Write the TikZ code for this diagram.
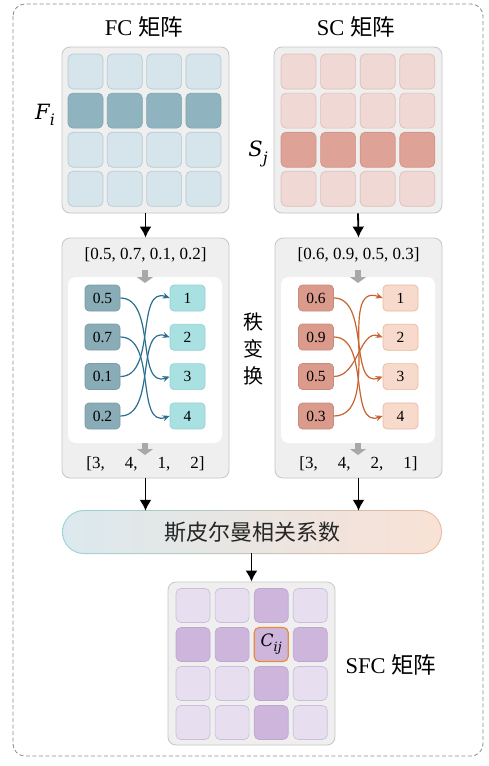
\documentclass[tikz,border=0pt]{standalone}
\usepackage{fontspec}
\setmainfont{Liberation Serif}
\newfontfamily\cjk{Noto Sans CJK SC}
\newfontfamily\mvar{DejaVu Serif}
\usetikzlibrary{arrows.meta,calc}
\definecolor{fclF}{HTML}{D5E5EB}\definecolor{fclD}{HTML}{B5CBD3}
\definecolor{fcdF}{HTML}{8FB4BF}\definecolor{fcdD}{HTML}{7FA6B2}
\definecolor{sclF}{HTML}{F0D9D5}\definecolor{sclD}{HTML}{E0BDB6}
\definecolor{scdF}{HTML}{DEA296}\definecolor{scdD}{HTML}{D09386}
\definecolor{panF}{HTML}{EFEFEF}\definecolor{panD}{HTML}{C6C6C6}
\definecolor{sflF}{HTML}{E7DEEF}\definecolor{sflD}{HTML}{CBBFD9}
\definecolor{sfdF}{HTML}{CDB5DC}\definecolor{sfdD}{HTML}{BFA6D1}
\definecolor{cijD}{HTML}{E98B3A}
\definecolor{rbdF}{HTML}{89ACB6}\definecolor{rbdD}{HTML}{7A9EA9}
\definecolor{rblF}{HTML}{A9E0E1}\definecolor{rblD}{HTML}{93D2D4}
\definecolor{rrdF}{HTML}{DA9A8C}\definecolor{rrdD}{HTML}{C98A7C}
\definecolor{rrlF}{HTML}{F7DACB}\definecolor{rrlD}{HTML}{EAB89C}
\definecolor{arB}{HTML}{2A6F8F}\definecolor{arO}{HTML}{C9632F}
\definecolor{grA}{HTML}{A8A8A8}\definecolor{frameC}{HTML}{8A8A8A}
\newcommand{\vsub}[2]{{\itshape #1}\raisebox{-0.3em}{\fontsize{0.75em}{0.75em}\selectfont\itshape #2}}
\begin{document}
\begin{tikzpicture}[x=1pt,y=-1pt,
  cellbox/.style={rectangle,rounded corners=5pt,minimum width=35pt,minimum height=35pt,line width=0.7pt,inner sep=0pt},
  fcl/.style={cellbox,fill=fclF,draw=fclD},
  fcd/.style={cellbox,fill=fcdF,draw=fcdD},
  scl/.style={cellbox,fill=sclF,draw=sclD},
  scd/.style={cellbox,fill=scdF,draw=scdD},
  sfl/.style={cellbox,minimum width=34pt,minimum height=34pt,fill=sflF,draw=sflD},
  sfd/.style={cellbox,minimum width=34pt,minimum height=34pt,fill=sfdF,draw=sfdD},
  panel/.style={rectangle,rounded corners=8pt,fill=panF,draw=panD,line width=0.8pt,inner sep=0pt},
  inner/.style={rectangle,rounded corners=8pt,fill=white,inner sep=0pt,minimum width=154pt,minimum height=166pt},
  rk/.style={rectangle,rounded corners=4pt,minimum width=35pt,minimum height=26pt,line width=0.7pt,inner sep=0pt,font=\fontsize{15.5}{15.5}\selectfont},
  rbd/.style={rk,fill=rbdF,draw=rbdD},
  rbl/.style={rk,fill=rblF,draw=rblD},
  rrd/.style={rk,fill=rrdF,draw=rrdD},
  rrl/.style={rk,fill=rrlF,draw=rrlD},
  blk/.style={-{Latex[length=11pt,width=12pt]},line width=1.8pt,black},
  gra/.style={-{Triangle[length=6pt,width=16pt]},line width=6pt,grA},
  cvB/.style={-{Stealth[length=7pt,width=6pt]},line width=1.2pt,arB},
  cvO/.style={-{Stealth[length=7pt,width=6pt]},line width=1.2pt,arO},
  vec/.style={font=\fontsize{17}{17}\selectfont,inner sep=1pt},
  ttl/.style={font=\fontsize{22.5}{22.5}\selectfont,inner sep=0pt}
]
\useasboundingbox (0,0) rectangle (489,766);
\draw[frameC,line width=0.8pt,dash pattern=on 4pt off 2.5pt,rounded corners=12pt] (13,4) rectangle (483,756);

% titles
\node[ttl] (tfc) at (144,27) {FC {\cjk 矩阵}};
\node[ttl] (tsc) at (356,27) {SC {\cjk 矩阵}};

% FC matrix
\node[panel,minimum width=167pt,minimum height=166pt] (fc) at (145.5,130) {};
\foreach \r/\s in {0/fcl,1/fcd,2/fcl,3/fcl}
  \foreach \c in {0,...,3}
    \node[\s] (fc-\r-\c) at (85.5+39.3*\c,71.5+39.1*\r) {};
\node[font=\mvar\fontsize{21}{21}\selectfont,inner sep=0pt] (Fi) at (45,115) {\vsub{F}{i}};

% SC matrix
\node[panel,minimum width=168pt,minimum height=166pt] (sc) at (358,130) {};
\foreach \r/\s in {0/scl,1/scl,2/scd,3/scl}
  \foreach \c in {0,...,3}
    \node[\s] (sc-\r-\c) at (298.5+39.6*\c,71.5+39.1*\r) {};
\node[font=\mvar\fontsize{21}{21}\selectfont,inner sep=0pt] (Sj) at (258,154) {\vsub{S}{j}};

% rank panels
\node[panel,minimum width=167pt,minimum height=240pt] (rankL) at (145.5,358) {};
\node[panel,minimum width=167pt,minimum height=240pt] (rankR) at (358.5,358) {};
\node[inner] (inL) at (145,360) {};
\node[inner] (inR) at (358,360) {};
\node[vec] (topL) at (145.5,255) {[0.5, 0.7, 0.1, 0.2]};
\node[vec] (topR) at (358.5,255) {[0.6, 0.9, 0.5, 0.3]};
\node[vec] (botL) at (145.5,464) {[3,\hspace{20pt}4,\hspace{20pt}1,\hspace{20pt}2]};
\node[vec] (botR) at (358.5,464) {[3,\hspace{20pt}4,\hspace{20pt}2,\hspace{20pt}1]};
\coordinate (gL1) at (145,270); \coordinate (gL2) at (145,283);
\coordinate (gR1) at (358,270); \coordinate (gR2) at (358,283);
\draw[gra] (gL1) -- (gL2);
\draw[gra] (gR1) -- (gR2);
\coordinate (hL) at (145,455); \coordinate (hR) at (358,455);
\draw[gra] (inL.south) -- (hL);
\draw[gra] (inR.south) -- (hR);

\foreach \i/\v/\y in {1/0.5/298,2/0.7/337,3/0.1/376.5,4/0.2/416}
  \node[rbd] (la\i) at (102.5,\y) {\v};
\foreach \i in {1,...,4}
  \node[rbl] (lb\i) at (187.5,{298+39.3*(\i-1)}) {\i};
\foreach \i/\v/\y in {1/0.6/298,2/0.9/337,3/0.5/376.5,4/0.3/416}
  \node[rrd] (ra\i) at (316,\y) {\v};
\foreach \i in {1,...,4}
  \node[rrl] (rb\i) at (400.5,{298+39.3*(\i-1)}) {\i};

\draw[cvB] (la1.east) to[out=0,in=200] (lb3.west);
\draw[cvB] (la2.east) to[out=0,in=200] (lb4.west);
\draw[cvB] (la3.east) to[out=0,in=160] (lb1.west);
\draw[cvB] (la4.east) to[out=0,in=160] (lb2.west);
\draw[cvO] (ra1.east) to[out=0,in=200] (rb3.west);
\draw[cvO] (ra2.east) to[out=0,in=200] (rb4.west);
\draw[cvO] (ra3.east) to[out=0,in=160] (rb2.west);
\draw[cvO] (ra4.east) to[out=0,in=160] (rb1.west);

\node[align=center,font=\cjk\fontsize{20}{27}\selectfont,inner sep=0pt] (rt) at (253,349) {秩\\变\\换};

% Spearman bar
\shade[left color=rblD,right color=rrlD,rounded corners=22pt] (62,510) rectangle (442,554);
\node[rectangle,rounded corners=21pt,minimum width=378pt,minimum height=42pt,inner sep=0pt,
  left color=fclF!85!white,middle color=white!96!gray,right color=rrlF!80!white,
  font=\cjk\fontsize{22}{22}\selectfont,text=black!85] (bar) at (252,532) {斯皮尔曼相关系数};

% SFC matrix
\node[panel,minimum width=167pt,minimum height=163pt] (sfc) at (251.5,663.5) {};
\foreach \r in {0,...,3}
  \foreach \c in {0,...,3}{
    \pgfmathtruncatemacro\dk{or(\r==1,\c==2)}
    \ifnum\dk=1 \def\st{sfd}\else\def\st{sfl}\fi
    \node[\st] (sf-\r-\c) at (193+39.1*\c,605.5+39*\r) {};
  }
\node[sfd,draw=cijD,line width=1.1pt,font=\mvar\fontsize{17}{17}\selectfont] (cij) at (sf-1-2) {\vsub{C}{ij}};
\node[ttl] (tsfc) at (391,665) {SFC {\cjk 矩阵}};

% arrows
\draw[blk] (fc.south) -- (rankL.north);
\draw[blk] (sc.south) -- (rankR.north);
\draw[blk] (rankL.south) -- (rankL.south |- bar.north);
\draw[blk] (rankR.south) -- (rankR.south |- bar.north);
\draw[blk] (sfc.north |- bar.south) -- (sfc.north);
\end{tikzpicture}
\end{document}
